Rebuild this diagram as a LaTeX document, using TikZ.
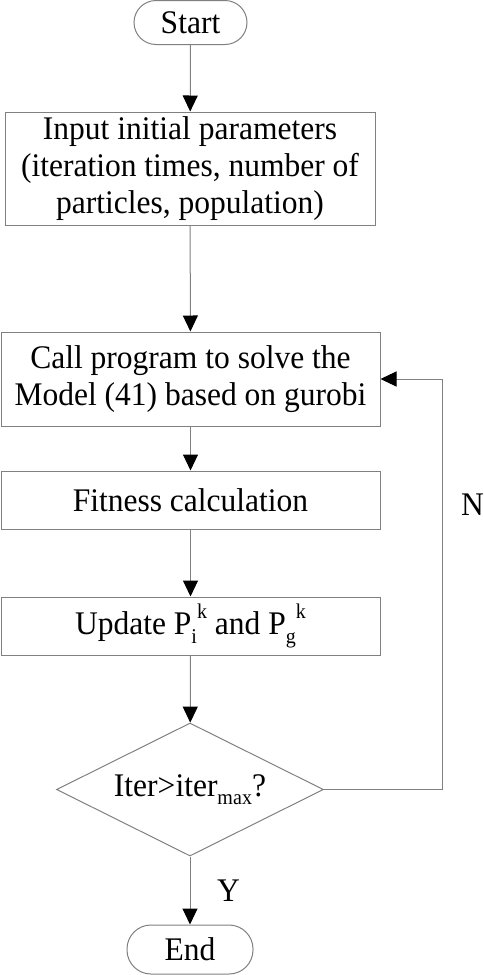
\documentclass[tikz,border=0pt]{standalone}
\usepackage{fontspec}
\setmainfont{Liberation Serif}[FakeStretch=0.955]
\usetikzlibrary{shapes.geometric,arrows.meta}
\newcommand{\subtxt}[1]{\raisebox{-0.26em}{\fontsize{21}{21}\selectfont #1}}
\newcommand{\suptxt}[1]{\raisebox{0.5em}{\fontsize{21}{21}\selectfont #1}}
\begin{document}
\begin{tikzpicture}[x=1pt,y=-1pt,
  every node/.style={font=\fontsize{33}{37}\selectfont, text=black},
  line/.style={draw=black!50, line width=1pt},
  box/.style={line, rectangle, inner sep=0pt, align=center},
  term/.style={line, rectangle, rounded corners=22pt, inner sep=0pt},
  dec/.style={line, diamond, aspect=2, inner sep=0pt},
  arr/.style={line, -{Triangle[length=16pt,width=15pt,fill=black,color=black]}},
  lbl/.style={inner sep=0pt}
]
\useasboundingbox (0,0) rectangle (484,975);
\node[term, minimum width=113pt, minimum height=44pt] (start) at (190.5,22.5) {Start};
\node[box, minimum width=370pt, minimum height=113pt] (b1) at (190,168.5)
  {Input initial parameters\\(iteration times, number of\\particles, population)};
\node[box, minimum width=379pt, minimum height=94pt] (b2) at (190.5,379)
  {Call program to solve the\\Model (41) based on gurobi};
\node[box, minimum width=379pt, minimum height=58pt] (b3) at (190.5,500) {Fitness calculation};
\node[box, minimum width=379pt, minimum height=58pt] (b4) at (190.5,626)
  {Update P\subtxt{i}\suptxt{k} and P\subtxt{g}\suptxt{k}};
\node[dec, minimum width=267pt, minimum height=133pt] (d) at (190,789.5)
  {Iter>iter\subtxt{max}?};
\node[term, minimum width=126pt, minimum height=49pt, rounded corners=24pt] (end) at (190,949.5) {End};
\coordinate (c1) at (442,789.5);
\coordinate (c2) at (442,379);
\draw[arr] (start) -- (b1);
\draw[arr] (b1) -- (b2);
\draw[arr] (b2) -- (b3);
\draw[arr] (b3) -- (b4);
\draw[arr] (b4) -- (d);
\draw[arr] (d) -- (end);
\draw[arr] (d.east) -- (c1) -- (c2) -- (b2.east);
\node[lbl, anchor=base west] (nl) at (461,515) {N};
\node[lbl, anchor=base west] (yl) at (217,901) {Y};
\end{tikzpicture}
\end{document}
